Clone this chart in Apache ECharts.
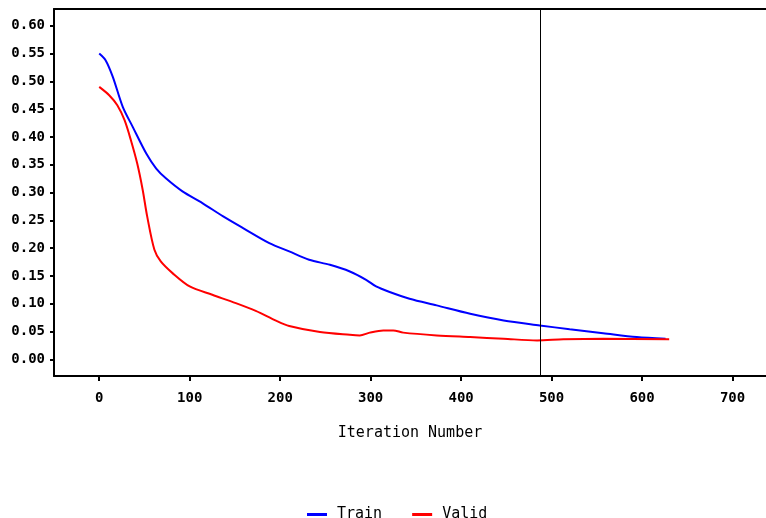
<!DOCTYPE html>
<html>
<head>
<meta charset="utf-8">
<script src="https://cdn.jsdelivr.net/npm/echarts@6/dist/echarts.min.js"></script>
<style>
html,body{margin:0;padding:0;background:#fff;}
#chart{width:766px;height:518px;}
</style>
</head>
<body>
<div id="chart"></div>
<script>
const trainX = [0, 7, 15, 26, 37, 52, 63, 74, 92, 114, 137, 159, 188, 210, 232, 255, 277, 295, 306, 321, 343, 373, 410, 447, 487, 520, 557, 594, 626];
const trainY = [0.550, 0.538, 0.508, 0.454, 0.418, 0.370, 0.343, 0.325, 0.302, 0.281, 0.257, 0.236, 0.209, 0.194, 0.179, 0.170, 0.158, 0.143, 0.131, 0.121, 0.109, 0.097, 0.082, 0.070, 0.061, 0.054, 0.047, 0.040, 0.037];
const validX = [0, 11, 20, 28, 35, 42, 48, 53, 61, 68, 81, 100, 125, 151, 173, 196, 210, 244, 277, 288, 299, 314, 325, 336, 373, 410, 447, 484, 513, 557, 630];
const validY = [0.490, 0.475, 0.457, 0.430, 0.394, 0.352, 0.305, 0.257, 0.197, 0.176, 0.155, 0.131, 0.116, 0.101, 0.087, 0.069, 0.060, 0.049, 0.044, 0.043, 0.048, 0.052, 0.052, 0.048, 0.043, 0.040, 0.037, 0.034, 0.036, 0.037, 0.036];
const xTicks = [0, 100, 200, 300, 400, 500, 600, 700];
const yTicks = [0, 0.05, 0.10, 0.15, 0.20, 0.25, 0.30, 0.35, 0.40, 0.45, 0.50, 0.55, 0.60];
const seriesNames = ['Train', 'Valid'];
const refIteration = 488;

const pair = (xs, ys) => xs.map((x, i) => [x, ys[i]]);
const FONT = 'DejaVu Sans Mono';
const X_MIN = -50, X_MAX = 737;

const chart = echarts.init(document.getElementById('chart'), null, {renderer: 'canvas'});
chart.setOption({
  backgroundColor: '#ffffff',
  animation: false,
  grid: {left: 54, right: 0, top: 9, bottom: 142, show: false},
  legend: {
    data: seriesNames,
    left: 302, top: 502,
    icon: 'rect', itemWidth: 20, itemHeight: 3, itemGap: 30,
    textStyle: {fontFamily: FONT, fontSize: 15, color: '#000', padding: [0, 0, 0, 5]}
  },
  xAxis: [{
    type: 'value', min: X_MIN, max: X_MAX, position: 'bottom',
    name: 'Iteration Number', nameLocation: 'middle', nameGap: 50,
    nameTextStyle: {fontFamily: FONT, fontSize: 15, color: '#000'},
    axisLine: {show: true, onZero: false, lineStyle: {color: '#000', width: 2}},
    axisTick: {show: true, length: 5, lineStyle: {color: '#000', width: 2}, customValues: xTicks},
    axisLabel: {fontFamily: FONT, fontWeight: 'bold', fontSize: 14, color: '#000', margin: 15, customValues: xTicks},
    splitLine: {show: false}
  }, {
    type: 'value', min: X_MIN, max: X_MAX, position: 'top',
    axisLine: {show: true, onZero: false, lineStyle: {color: '#000', width: 2}},
    axisTick: {show: false}, axisLabel: {show: false}, splitLine: {show: false}
  }],
  yAxis: {
    type: 'value', min: -0.03, max: 0.63,
    axisLine: {show: true, onZero: false, lineStyle: {color: '#000', width: 2}},
    axisTick: {show: true, length: 4, lineStyle: {color: '#000', width: 2}, customValues: yTicks},
    axisLabel: {fontFamily: FONT, fontWeight: 'bold', fontSize: 14, color: '#000', margin: 9,
      customValues: yTicks, formatter: v => v.toFixed(2)},
    splitLine: {show: false}
  },
  series: [
    {
      name: seriesNames[0], type: 'line', data: pair(trainX, trainY),
      showSymbol: false, smooth: 0.3, color: '#0000ff',
      lineStyle: {color: '#0000ff', width: 2},
      markLine: {
        silent: true, symbol: ['none', 'none'], label: {show: false},
        lineStyle: {color: '#000', width: 1, type: 'solid'},
        data: [{xAxis: refIteration}]
      }
    },
    {
      name: seriesNames[1], type: 'line', data: pair(validX, validY),
      showSymbol: false, smooth: 0.3, color: '#ff0000',
      lineStyle: {color: '#ff0000', width: 2}
    }
  ]
});
</script>
</body>
</html>
